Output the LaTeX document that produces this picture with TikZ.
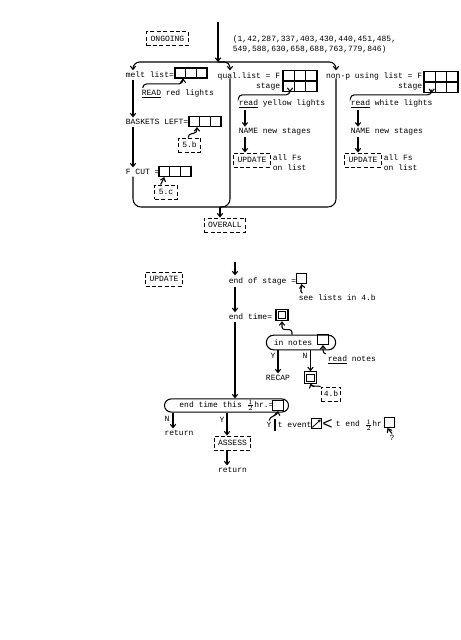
\documentclass[tikz,border=0pt]{standalone}
\usepackage{fontspec}
\setmonofont{Liberation Mono}
\usetikzlibrary{calc,arrows.meta,shapes.misc}

\tikzset{
  every node/.style={font=\ttfamily\fontsize{6}{7.5}\selectfont, inner sep=1pt},
  refbox/.style={draw, line width=0.7pt, dash pattern=on 3pt off 1.8pt, inner xsep=3pt, minimum height=10.5pt},
  cellrow/.style={draw, inner sep=0pt, minimum width=24pt, minimum height=7.5pt,
    path picture={
      \foreach \k in {1,2}
        \draw ($(path picture bounding box.south west)!\k/3!(path picture bounding box.south east)$)
          -- ($(path picture bounding box.north west)!\k/3!(path picture bounding box.north east)$);
    }},
  cellgrid/.style={draw, inner sep=0pt, minimum width=25.5pt, minimum height=15.75pt,
    path picture={
      \foreach \k in {1,2}
        \draw ($(path picture bounding box.south west)!\k/3!(path picture bounding box.south east)$)
          -- ($(path picture bounding box.north west)!\k/3!(path picture bounding box.north east)$);
      \draw (path picture bounding box.west) -- (path picture bounding box.east);
    }},
  smallbox/.style={draw, inner sep=0pt, minimum width=8pt, minimum height=7.5pt},
  screenbox/.style={draw, inner sep=0pt, minimum width=9pt, minimum height=8.5pt,
    path picture={
      \draw[line width=0.6pt] ([shift={(1.7pt,1.7pt)}]path picture bounding box.south west)
        rectangle ([shift={(-1.7pt,-1.7pt)}]path picture bounding box.north east);
    }},
  capsule/.style={draw, rounded rectangle, inner sep=1pt},
}
\newcommand{\halfhr}{\({\scriptscriptstyle\frac{1}{2}}\)}

\begin{document}
\begin{tikzpicture}[x=0.75pt, y=-0.75pt, line width=0.8pt, >={Straight Barb[length=2.5pt,width=4pt]}]
\useasboundingbox (0,0) rectangle (461,640);

% ---- ongoing loop ----
\node[refbox] (ongoing) at (167.5,38.5) {ONGOING};
\node[align=left, anchor=west] (ids) at (231,44.5) {(1,42,287,337,403,430,440,451,485,\\549,588,630,658,688,763,779,846)};
\coordinate (entry) at (218,22);
\coordinate (split) at (218,62);
\coordinate (lcol) at (133,0);
\coordinate (mcol) at (230,0);
\coordinate (rcol) at (336,0);
\coordinate (mrd) at (245,0);
\coordinate (rrd) at (358,0);
\coordinate (join) at (220,207);

% red lights
\node[anchor=west] (melt) at (124,75) {melt list=};
\node[cellrow] (meltbox) at (191,73) {};
\node[anchor=west] (readred) at (140,94) {\underline{READ} red lights};
\node[anchor=west] (bask) at (124,122) {BASKETS LEFT=};
\node[cellrow] (baskbox) at (205,121.5) {};
\node[refbox] (ref5b) at (189.5,145) {5.b};
\node[anchor=west] (fcut) at (124,172) {F CUT =};
\node[cellrow] (fcutbox) at (175,171.5) {};
\node[refbox] (ref5c) at (166,192) {5.c};

% yellow lights
\node[align=right, anchor=east] (qual) at (282,81) {qual.list = F\\stage};
\node[cellgrid] (qualgrid) at (300,81) {};
\node[anchor=west] (ready) at (237,104) {\underline{read} yellow lights};
\node[anchor=west] (mname) at (237,132) {NAME new stages};
\node[refbox] (mupd) at (252,160) {UPDATE};
\node[align=left, anchor=west] (mall) at (271,163) {all Fs\\on list};

% white lights
\node[align=right, anchor=east] (nonp) at (424,81) {non-p using list = F\\stage};
\node[cellgrid] (nonpgrid) at (441,82) {};
\node[anchor=west] (readw) at (349,104) {\underline{read} white lights};
\node[anchor=west] (rname) at (349,132) {NAME new stages};
\node[refbox] (rupd) at (363,160) {UPDATE};
\node[align=left, anchor=west] (rall) at (382,163) {all Fs\\on list};

\node[refbox] (overall) at (225,225) {OVERALL};

% loop lines
\draw[->] (entry) -- (split);
\draw[->, rounded corners=5pt] (split) -| (melt.north -| lcol);
\draw[->, rounded corners=4pt] (split) -| (qual.north -| mcol);
\draw[->, rounded corners=5pt] (split) -| (nonp.north -| rcol);
\draw[->] (melt.south -| lcol) -- (bask.north -| lcol);
\draw[->] (bask.south -| lcol) -- (fcut.north -| lcol);
\draw[rounded corners=6pt] (fcut.south -| lcol) |- (join);
\draw[rounded corners=6pt] ($(qual.north -| mcol)+(0,8)$) |- (join);
\draw[rounded corners=6pt] ($(nonp.north -| rcol)+(0,8)$) |- (join);
\draw[->] (join) -- (overall.north -| join);

% reads and refs
\draw[->, rounded corners=3pt] ([xshift=2pt]readred.north west) -- ++(0,-4) -| ([xshift=-6pt]meltbox.south);
\draw[->, rounded corners=3pt] ([xshift=-1pt]ref5b.north) -- ++(0,-4) -| ([xshift=-6pt]baskbox.south);
\draw[->] ([xshift=-4pt]ref5c.north) to[out=70,in=-110] ([xshift=-8pt]fcutbox.south);
\draw[->, rounded corners=3pt] ([xshift=1pt]ready.north west) -- ++(0,-3) -| ([xshift=-7.5pt]qualgrid.south);
\draw[->, rounded corners=3pt] ([xshift=1pt]readw.north west) -- ++(0,-3) -| ([xshift=-7pt]nonpgrid.south);
\draw[->] (ready.south -| mrd) -- (mname.north -| mrd);
\draw[->] (mname.south -| mrd) -- (mupd.north -| mrd);
\draw[->] (readw.south -| rrd) -- (rname.north -| rrd);
\draw[->] (rname.south -| rrd) -- (rupd.north -| rrd);

% ---- update ----
\node[refbox] (update) at (164,279) {UPDATE};
\coordinate (utop) at (235,262);
\coordinate (bcol) at (235,0);
\coordinate (ncol) at (173,0);
\coordinate (acol) at (227,0);

\node[anchor=west] (endstage) at (227,281) {end of stage =};
\node[smallbox] (esbox) at (301.5,278.5) {};
\node[anchor=west] (seelists) at (297,298) {see lists in 4.b};
\node[anchor=west] (endtime) at (227,317) {end time=};
\node[screenbox] (etbox) at (282,315) {};
\node[capsule, minimum width=54pt, minimum height=11pt] (innotes) at (301,342.5) {in notes\rule{12pt}{0pt}};
\node[smallbox] (inbox) at (323,339.5) {};
\node[anchor=west] (readnotes) at (326,360) {\underline{read} notes};
\node (ylab) at (273,356) {Y};
\node (nlab) at (305,356) {N};
\node (recap) at (278,378) {RECAP};
\node[screenbox] (nbox) at (310.5,377.5) {};
\node[refbox, inner xsep=2pt] (ref4b) at (331,394) {4.b};

\node[capsule, minimum width=95pt, minimum height=9.75pt] (endhalf) at (226.5,405.5) {end time this \halfhr hr.=};
\node[smallbox] (bigbox) at (278,405.5) {};
\node (nlab2) at (167,419) {N};
\node (ylab2) at (222,420) {Y};
\node (ret1) at (179,433) {return};
\node[refbox] (assess) at (232.5,443) {ASSESS};
\node (ret2) at (232.5,470) {return};

\node (ylab3) at (269,425) {Y};
\draw (275,419) -- (275,431);
\node[anchor=west] (tevent) at (276,425) {t event};
\node[smallbox] (evbox) at (316.5,423.5) {};
\node (lt) at (327.5,424.5) {\fontsize{13}{13}\selectfont<};
\node[anchor=west] (tend) at (334,425) {t end \halfhr hr.};
\node[smallbox] (endbox) at (389.5,422.5) {};
\node (qmark) at (392,438) {?};

% flow
\draw[->] (utop) -- (endstage.north -| bcol);
\draw[->] (endstage.south -| bcol) -- (endtime.north -| bcol);
\draw[->] (endtime.south -| bcol) -- (endhalf.north -| bcol);
\draw[->] ([xshift=4pt]seelists.north west) to[out=150,in=-80] (esbox.south);
\draw[->, rounded corners=2pt] ([xshift=-6.75pt]innotes.north) -- ++(0,-5) -| (etbox.south);
\draw[->] (readnotes.north west) to[out=180,in=-90] (inbox.south);
\draw[->] (innotes.south -| recap) -- (recap);
\draw[->] (innotes.south -| nbox) -- (nbox);
\draw[->] (ref4b.north west) to[out=160,in=-70] (nbox.south);
\draw[->] (endhalf.south -| ncol) -- (ret1.north -| ncol);
\draw[->] (endhalf.south -| acol) -- (assess.north -| acol);
\draw[->] (assess.south -| acol) -- (ret2.north -| acol);
\draw[->] (ylab3.north) to[out=80,in=-100] (bigbox.south);
\draw[->, line width=0.6pt, >={Straight Barb[length=1.5pt,width=2pt]}] ([shift={(1.2pt,1.2pt)}]evbox.south west) -- ([shift={(-1.2pt,-1.2pt)}]evbox.north east);
\draw[->] (qmark.north) to[out=120,in=-60] ([xshift=-1.5pt]endbox.south);
\end{tikzpicture}
\end{document}
